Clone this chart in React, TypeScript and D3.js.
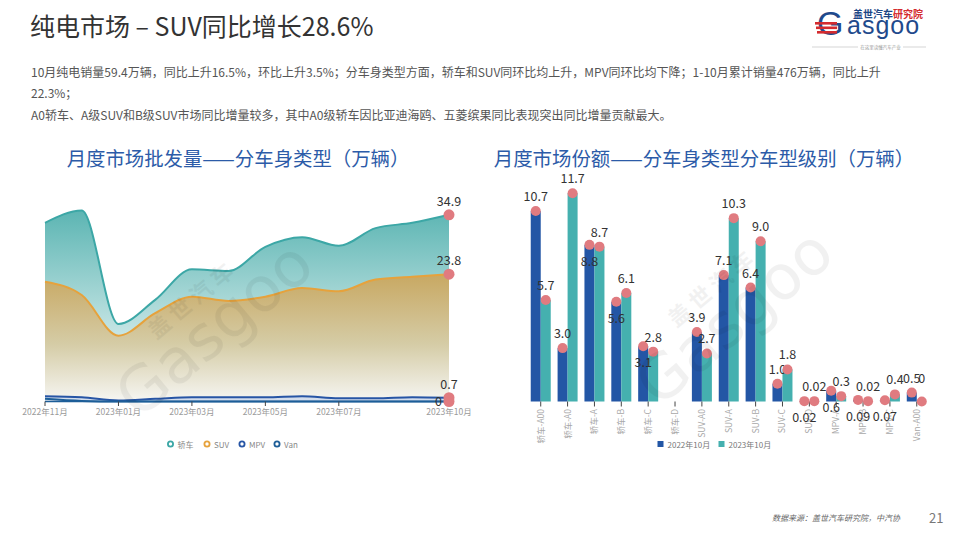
import React from 'react';
import * as d3 from 'd3';

// ---- left chart data (万辆) ----
const months = [
  '2022年11月', '2022年12月', '2023年01月', '2023年02月', '2023年03月', '2023年04月',
  '2023年05月', '2023年06月', '2023年07月', '2023年08月', '2023年09月', '2023年10月'
];
const monthTicks = ['2022年11月', '2023年01月', '2023年03月', '2023年05月', '2023年07月', '2023年10月'];
const sedanSales = [33.4, 35.7, 14.5, 19.0, 24.7, 24.4, 28.9, 30.7, 29.1, 32.4, 33.4, 34.9];
const suvSales = [22.4, 19.9, 12.3, 16.5, 19.6, 18.8, 19.6, 21.2, 20.6, 22.8, 23.3, 23.8];
const mpvSales = [1.0, 0.8, 0.2, 0.5, 0.8, 0.8, 0.8, 1.0, 0.6, 0.6, 0.8, 0.7];
const vanSales = [0.5, 0.1, 0, 0, 0, 0, 0, 0, 0, 0, 0, 0];

// ---- right chart data (万辆) ----
const segments = [
  '轿车-A00', '轿车-A0', '轿车-A', '轿车-B', '轿车-C', '轿车-D',
  'SUV-A0', 'SUV-A', 'SUV-B', 'SUV-C', 'SUV-D', 'MPV-A', 'MPV-B', 'MPV-C', 'Van-A00'
];
const seg2022: (number | null)[] = [10.7, 3.0, 8.8, 5.6, 3.1, null, 3.9, 7.1, 6.4, 1.0, 0.02, 0.6, 0.09, 0.07, 0.5];
const seg2023: (number | null)[] = [5.7, 11.7, 8.7, 6.1, 2.8, null, 2.7, 10.3, 9.0, 1.8, 0.02, 0.3, 0.02, 0.4, 0];

const FONT = '"Noto Sans CJK SC", "Noto Sans", sans-serif';
const DOT = '#e07b80';

const fmt = (v: number) => (v === 0 ? '0' : v < 0.1 ? String(v) : v.toFixed(1));

function LeftChart() {
  const x = d3.scalePoint<string>().domain(months).range([45, 449]);
  const y = d3.scaleLinear().domain([0, 35]).range([401.5, 214.25]);
  const series = [
    { name: '轿车', values: sedanSales, stroke: '#3ca7a6', fill: 'url(#gSedan)' },
    { name: 'SUV', values: suvSales, stroke: '#e6a23c', fill: 'url(#gSuv)' },
    { name: 'MPV', values: mpvSales, stroke: '#2755a5', fill: '#d3ddec' },
    { name: 'Van', values: vanSales, stroke: '#1d5e98', fill: '#dfe7f1' }
  ];
  const area = d3.area<number>()
    .x((_, i) => x(months[i])!)
    .y0(y(0))
    .y1(d => y(d))
    .curve(d3.curveMonotoneX);
  const line = d3.line<number>()
    .x((_, i) => x(months[i])!)
    .y(d => y(d))
    .curve(d3.curveMonotoneX);
  const last = months.length - 1;
  const lx = x(months[last])!;

  return (
    <g>
      <defs>
        <linearGradient id="gSedan" x1="0" y1="0" x2="0" y2="1">
          <stop offset="0" stopColor="#5cb5b3" />
          <stop offset="1" stopColor="#ffffff" />
        </linearGradient>
        <linearGradient id="gSuv" x1="0" y1="0" x2="0" y2="1">
          <stop offset="0" stopColor="#c8a862" />
          <stop offset="0.55" stopColor="#d5cca6" />
          <stop offset="1" stopColor="#f6f6f3" />
        </linearGradient>
      </defs>
      {series.map(s => (
        <g key={s.name}>
          <path d={area(s.values)!} fill={s.fill} />
          <path d={line(s.values)!} fill="none" stroke={s.stroke} strokeWidth={2} />
        </g>
      ))}
      {/* axis */}
      <line x1={45} x2={449} y1={401.5} y2={401.5} stroke="#1d5e98" strokeWidth={1.5} />
      {monthTicks.map(m => (
        <g key={m} transform={`translate(${x(m)},0)`}>
          <line y1={401.5} y2={406} stroke="#444" strokeWidth={1} />
          <text y={415} textAnchor="middle" fontSize={8.5} fill="#9a9a9a">{m}</text>
        </g>
      ))}
      {/* end markers */}
      {series.map((s, k) => {
        const v = s.values[last];
        const cy = y(v);
        const onLeft = k === series.length - 1 && Math.abs(y(series[k - 1].values[last]) - cy) < 14;
        return (
          <g key={s.name}>
            <circle cx={lx} cy={cy} r={5.5} fill={DOT} />
            {onLeft ? (
              <text x={lx - 7} y={cy - 1} dominantBaseline="central" textAnchor="end" fontSize={12.5} fill="#333">{fmt(v)}</text>
            ) : (
              <text x={lx} y={cy - 14.5} dominantBaseline="central" textAnchor="middle" fontSize={12.5} fill="#333">{fmt(v)}</text>
            )}
          </g>
        );
      })}
      {/* legend */}
      {series.map((s, i) => {
        const lxp = 170.5 + [0, 36.5, 71.5, 106.5][i];
        return (
          <g key={s.name}>
            <circle cx={lxp} cy={444} r={2.6} fill="#fff" stroke={s.stroke} strokeWidth={1.8} />
            <text x={lxp + 7} y={444} dominantBaseline="central" fontSize={8} fill="#888">{s.name}</text>
          </g>
        );
      })}
    </g>
  );
}

function RightChart() {
  const x = d3.scaleBand<string>().domain(segments).range([527.3, 930.2]);
  const y = d3.scaleLinear().domain([0, 12]).range([401.5, 187.9]);
  const years = ['2022年10月', '2023年10月'];
  const inner = d3.scaleBand<string>().domain(years).range([x.bandwidth() / 2 - 10, x.bandwidth() / 2 + 10]);
  const colors = ['#2356a5', '#45b0af'];
  const data = [seg2022, seg2023];

  return (
    <g>
      {segments.map((seg, i) => {
        const x0 = x(seg)!;
        return (
          <g key={seg}>
            {data.map((arr, k) => {
              const v = arr[i];
              if (v == null) return null;
              const bx = x0 + inner(years[k])!;
              return (
                <rect key={k} x={bx} y={y(v)} width={inner.bandwidth()} height={y(0) - y(v)} fill={colors[k]} />
              );
            })}
            <line x1={x0 + x.bandwidth() / 2} x2={x0 + x.bandwidth() / 2} y1={401.5} y2={406.5} stroke="#444" />
            <text
              transform={`translate(${x0 + x.bandwidth() / 2 + 3},409) rotate(-90)`}
              textAnchor="end"
              fontSize={8.5}
              fill="#a8a8a8"
            >{seg}</text>
          </g>
        );
      })}
      {segments.map((seg, i) => {
        const x0 = x(seg)!;
        const a = seg2022[i];
        const b = seg2023[i];
        // label placement when the two value labels would collide
        const labelY: number[] = [];
        if (a != null) labelY[0] = y(a) - 15.5;
        if (b != null) labelY[1] = y(b) - 15.5;
        if (a != null && b != null && Math.abs(y(a) - y(b)) < 14) {
          if (b === 0) labelY[1] = labelY[0];
          else labelY[0] = y(a) + 15.5;
        }
        return (
          <g key={seg}>
            {data.map((arr, k) => {
              const v = arr[i];
              if (v == null) return null;
              const cx = x0 + inner(years[k])! + inner.bandwidth() / 2;
              const cy = y(v);
              return (
                <g key={k}>
                  <circle cx={cx} cy={cy} r={5} fill={DOT} />
                  <text
                    x={cx}
                    y={labelY[k]}
                    dominantBaseline="central"
                    textAnchor="middle"
                    fontSize={12.5}
                    fill="#333"
                  >{fmt(v)}</text>
                </g>
              );
            })}
          </g>
        );
      })}
      {/* legend */}
      {years.map((yr, k) => {
        const lxp = 657.5 + k * 61;
        return (
          <g key={yr}>
            <rect x={lxp} y={441} width={6} height={6} fill={colors[k]} />
            <text x={lxp + 10} y={444} dominantBaseline="central" fontSize={8} fill="#777">{yr}</text>
          </g>
        );
      })}
    </g>
  );
}

function Watermark({ cx, cy }: { cx: number; cy: number }) {
  return (
    <g transform={`translate(${cx},${cy}) rotate(-40)`} opacity={0.05} fill="#000">
      <text x={0} y={-30} textAnchor="middle" fontSize={22} fontWeight="bold" fontFamily={FONT}>盖 世 汽 车</text>
      <text x={0} y={20} textAnchor="middle" fontSize={62} fontFamily="'DejaVu Sans', sans-serif">Gasgoo</text>
    </g>
  );
}

function Logo() {
  return (
    <g>
      <text x={853} y={13} dominantBaseline="central" fontSize={10} fontWeight="bold" fill="#1d4685">盖世汽车<tspan fill="#d42b2f">研究院</tspan></text>
      <text x={817} y={35} fontSize={34} fill="#1f4a8c" fontFamily="'Liberation Sans', sans-serif">G</text>
      <rect x={815} y={22} width={22} height={2.6} fill="#d42b2f" />
      <rect x={816} y={26.5} width={21} height={2.6} fill="#d42b2f" />
      <rect x={817} y={31} width={20} height={2.6} fill="#d42b2f" />
      <text x={847} y={34} fontSize={25} fill="#1f4a8c" fontFamily="'Liberation Sans', sans-serif" letterSpacing={1}>asgoo</text>
      <line x1={812} x2={858} y1={47} y2={47} stroke="#bbb" strokeWidth={0.6} />
      <line x1={903} x2={926} y1={47} y2={47} stroke="#bbb" strokeWidth={0.6} />
      <text x={880.5} y={47} dominantBaseline="central" fontSize={4.5} fill="#999" textAnchor="middle">在这里读懂汽车产业</text>
    </g>
  );
}

export default function App() {
  return (
    <svg
      width={954}
      height={534}
      viewBox="0 0 954 534"
      style={{ position: 'absolute', left: 0, top: 0, background: '#fff' }}
      fontFamily={FONT}
    >
      <rect width={954} height={534} fill="#fff" />
      {/* header */}
      <text x={30} y={36} fontSize={25} fill="#333">纯电市场 – SUV同比增长28.6%</text>
      <g fontSize={12} fill="#555">
        <text x={31} y={77}>10月纯电销量59.4万辆，同比上升16.5%，环比上升3.5%；分车身类型方面，轿车和SUV同环比均上升，MPV同环比均下降；1-10月累计销量476万辆，同比上升</text>
        <text x={31} y={98}>22.3%；</text>
        <text x={31} y={120}>A0轿车、A级SUV和B级SUV市场同比增量较多，其中A0级轿车因比亚迪海鸥、五菱缤果同比表现突出同比增量贡献最大。</text>
      </g>
      <Logo />
      {/* chart titles */}
      <text x={238} y={157} textAnchor="middle" dominantBaseline="central" fontSize={19.4} fill="#2c5ba8">月度市场批发量——分车身类型（万辆）</text>
      <text x={704} y={157} textAnchor="middle" dominantBaseline="central" fontSize={19.4} fill="#2c5ba8">月度市场份额——分车身类型分车型级别（万辆）</text>
      <LeftChart />
      <RightChart />
      <Watermark cx={215} cy={330} />
      <Watermark cx={735} cy={318} />
      {/* footer */}
      <text x={772} y={521} fontSize={8} fill="#666" fontStyle="italic">数据来源：盖世汽车研究院，中汽协</text>
      <text x={929} y={523} fontSize={13} fill="#777">21</text>
    </svg>
  );
}
